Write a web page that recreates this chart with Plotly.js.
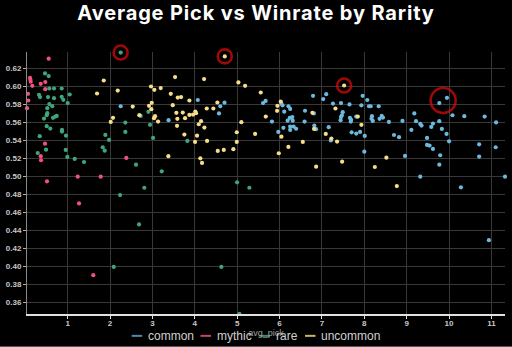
<!DOCTYPE html>
<html>
<head>
<meta charset="utf-8">
<script src="https://cdn.plot.ly/plotly-3.0.1.min.js"></script>
<style>
html,body{margin:0;padding:0;background:#000;}
#chart{width:512px;height:347px;}
.gtitle{letter-spacing:0.85px;}
</style>
</head>
<body>
<div id="chart"></div>
<script>
// ---- data ----
const categories = ['common', 'mythic', 'rare', 'uncommon'];

const commonX = [2.25,4.07,4.60,4.70,4.57,3.38,5.61,5.67,6.04,6.07,6.11,6.21,6.25,6.30,6.24,6.19,6.31,5.82,5.97,6.09,6.25,6.33,6.25,6.39,6.60,6.59,6.79,6.81,6.82,6.86,7.03,7.10,7.26,7.45,7.65,7.49,7.47,7.45,7.44,7.16,7.21,7.66,7.69,7.68,7.81,7.70,7.81,7.90,8.01,8.00,7.96,8.07,7.93,8.11,8.15,8.34,8.18,8.17,8.20,8.36,8.41,8.44,8.58,8.90,8.70,8.82,8.96,9.11,9.18,9.22,9.32,9.32,9.35,9.62,9.58,9.77,9.83,9.94,10.00,9.48,9.48,9.54,9.62,9.79,9.77,10.28,10.08,10.36,10.84,11.11,10.71,11.10,10.71,11.32,10.94,9.77,9.95];
const commonY = [0.578,0.585,0.578,0.582,0.570,0.5625,0.5815,0.584,0.581,0.579,0.572,0.578,0.575,0.566,0.565,0.562,0.562,0.561,0.5495,0.554,0.5554,0.5554,0.5517,0.553,0.573,0.561,0.5896,0.570,0.5565,0.5525,0.586,0.5915,0.581,0.5815,0.580,0.5714,0.568,0.566,0.5625,0.5547,0.540,0.565,0.563,0.561,0.5665,0.549,0.5476,0.5495,0.545,0.5275,0.5896,0.585,0.579,0.578,0.578,0.578,0.567,0.564,0.5617,0.564,0.5673,0.5654,0.5606,0.5617,0.546,0.5436,0.5227,0.5517,0.570,0.5614,0.4996,0.5584,0.5565,0.5587,0.555,0.5614,0.5528,0.5472,0.539,0.5428,0.535,0.5342,0.5305,0.5235,0.513,0.4878,0.568,0.567,0.5665,0.560,0.5357,0.5324,0.522,0.4996,0.429,0.5815,0.5874];

const mythicX = [0.551,0.110,0.120,0.127,0.164,0.363,0.471,0.471,0.063,0.070,0.039,0.464,0.363,0.370,0.511,1.236,1.779,2.383,1.267,1.604];
const mythicY = [0.631,0.6097,0.6075,0.6053,0.6008,0.603,0.605,0.597,0.5919,0.5844,0.5759,0.5364,0.5224,0.5179,0.4945,0.4996,0.4996,0.5205,0.4699,0.390];

const rareX = [0.464,0.551,0.566,0.677,0.858,1.047,0.322,0.346,0.535,0.677,0.858,0.896,1.000,0.566,0.636,0.518,0.518,0.504,0.707,0.740,0.653,0.440,0.504,0.589,0.865,0.865,0.960,0.339,0.488,0.292,0.953,0.991,1.165,1.385,1.888,1.975,1.826,1.873,2.360,2.360,2.235,2.250,2.903,2.723,2.943,3.014,3.824,2.612,3.219,2.808,4.997,5.287,2.683,2.086,4.626,5.051];
const rareY = [0.6145,0.6116,0.5978,0.5978,0.5978,0.5911,0.5907,0.5882,0.5882,0.587,0.5885,0.5852,0.5815,0.5804,0.5781,0.5759,0.5703,0.5681,0.5665,0.5673,0.5651,0.5643,0.5558,0.5532,0.5517,0.5498,0.5453,0.5447,0.5297,0.526,0.5294,0.5216,0.5194,0.516,0.5461,0.5405,0.5324,0.5286,0.5598,0.5495,0.4792,0.6378,0.5718,0.5673,0.5573,0.5428,0.5394,0.513,0.5056,0.4873,0.4934,0.4873,0.4465,0.3992,0.3992,0.347];

const uncommonX = [1.850,1.692,2.180,2.069,2.015,3.533,4.218,5.028,5.186,2.966,3.045,3.195,3.432,5.556,3.597,3.675,3.871,2.534,2.983,3.479,4.532,2.919,2.974,4.281,4.437,5.674,2.690,3.037,3.061,3.132,3.564,3.715,3.871,3.958,4.012,4.029,3.587,3.769,4.147,4.093,3.580,4.225,5.098,4.990,5.422,3.753,4.052,4.005,4.289,4.990,4.541,4.683,4.909,3.375,4.130,4.170,4.706,6.028,5.949,5.941,6.775,7.318,7.846,7.931,6.814,7.090,6.043,7.223,7.357,6.548,6.208,5.981,8.521,6.862,7.476,8.248,8.767,7.523];
const uncommonY = [0.6067,0.5922,0.5955,0.5651,0.5606,0.6105,0.6083,0.6045,0.6008,0.600,0.5963,0.5982,0.5919,0.5933,0.5877,0.5882,0.5844,0.5777,0.5818,0.5792,0.5822,0.5785,0.5748,0.5755,0.5755,0.5665,0.5681,0.5647,0.567,0.561,0.5707,0.571,0.5684,0.5688,0.5721,0.5703,0.564,0.5647,0.5614,0.558,0.5562,0.5543,0.5603,0.5491,0.5472,0.5465,0.5453,0.5383,0.5394,0.5383,0.5283,0.5294,0.5302,0.5224,0.5201,0.5149,0.6335,0.5833,0.5785,0.5729,0.5707,0.5755,0.5665,0.5573,0.5528,0.5472,0.5442,0.542,0.5387,0.5383,0.5327,0.5257,0.5208,0.5108,0.5163,0.5104,0.4892,0.6011];

// highlighted cards (red rings)
const highlightX = [2.25, 4.706, 7.523, 9.86];
const highlightY = [0.6378, 0.6335, 0.6011, 0.5845];

const yTickVals = [0.36,0.38,0.40,0.42,0.44,0.46,0.48,0.50,0.52,0.54,0.56,0.58,0.60,0.62];
const xTickVals = [1,2,3,4,5,6,7,8,9,10,11];

// ---- styling ----
const pointColors = {common:'#6db8de', mythic:'#f0527f', rare:'#3fa57c', uncommon:'#f5dd8a'};
const legendColors = {common:'#4f88b3', mythic:'#c8436c', rare:'#3d8d6b', uncommon:'#c9b271'};
const series = {common:[commonX,commonY], mythic:[mythicX,mythicY], rare:[rareX,rareY], uncommon:[uncommonX,uncommonY]};

const traces = categories.map(c => ({
  type:'scatter', mode:'markers', name:c,
  x: series[c][0], y: series[c][1],
  marker:{color:pointColors[c], size:4.2, line:{width:0}},
  cliponaxis:false, showlegend:false, hoverinfo:'x+y+name'
}));
traces.push({
  type:'scatter', mode:'markers', name:'highlight',
  x: highlightX, y: highlightY,
  marker:{symbol:'circle-open', color:'#e00b0b', size:[14,14,14,25], line:{width:2.6, color:'#e00b0b'}},
  cliponaxis:false, showlegend:false, hoverinfo:'skip'
});

// plot area geometry (px)
const L = 27, R = 7, T = 52.3, B = 33.3;
const W = 512 - L - R, H = 347 - T - B;
const px = v => (v - L) / W;
const py = v => (T + H - v) / H;

// custom compact legend (short line + label)
const legendPos = {common:[131.7,147.7], mythic:[200.5,216.7], rare:[259.5,275.5], uncommon:[305,321]};
const shapes = [], annotations = [];
categories.forEach(c => {
  const [lx, tx] = legendPos[c];
  shapes.push({type:'line', xref:'paper', yref:'paper', x0:px(lx), x1:px(lx+10.5), y0:py(335.5), y1:py(335.5),
               line:{color:legendColors[c], width:2}});
  annotations.push({xref:'paper', yref:'paper', x:px(tx-1), y:py(335.5), xanchor:'left', yanchor:'middle',
               text:c, showarrow:false, borderpad:0,
               font:{family:'Liberation Sans, Arial, sans-serif', size:12, color:'#d0d0d0'}});
});
// frame line along bottom edge of the picture
shapes.push({type:'line', xref:'paper', yref:'paper', x0:px(0), x1:px(512), y0:py(346.5), y1:py(346.5),
             line:{color:'#8c8c8c', width:1}});

const axisFont = {family:'Liberation Sans, Arial, sans-serif', size:8, color:'#c8c8c8', weight:'bold'};

const layout = {
  width:512, height:347,
  margin:{l:L, r:R, t:T, b:B, pad:0},
  paper_bgcolor:'#000', plot_bgcolor:'#000',
  title:{text:'Average Pick vs Winrate by Rarity', x:0.5, xref:'container', xanchor:'center',
         y:1-12.5/347, yref:'container', yanchor:'middle',
         font:{family:'Inter, "Open Sans", sans-serif', size:20, color:'#ffffff', weight:700}},
  showlegend:false,
  xaxis:{range:[0.039, 11.32], tickvals:xTickVals, ticktext:xTickVals.map(String),
         showgrid:true, gridcolor:'#383838', gridwidth:1, zeroline:false,
         showline:true, linecolor:'#e0e0e0', linewidth:2,
         ticks:'outside', ticklen:3, tickcolor:'#e0e0e0', tickwidth:1, tickfont:axisFont,
         ticklabelstandoff:-3,
         title:{text:'avg_pick', font:{family:'Liberation Sans, Arial, sans-serif', size:9, color:'#a0a0a0'}, standoff:0},
         automargin:false},
  yaxis:{range:[0.3468, 0.6384], tickvals:yTickVals, ticktext:yTickVals.map(v => v.toFixed(2)),
         showgrid:true, gridcolor:'#383838', gridwidth:1, zeroline:false,
         showline:true, linecolor:'#8a8a8a', linewidth:1,
         ticks:'outside', ticklen:3, tickcolor:'#b0b0b0', tickwidth:1, tickfont:axisFont,
         automargin:false},
  shapes:shapes, annotations:annotations
};

Plotly.newPlot('chart', traces, layout, {staticPlot:true, displayModeBar:false});
</script>
</body>
</html>
